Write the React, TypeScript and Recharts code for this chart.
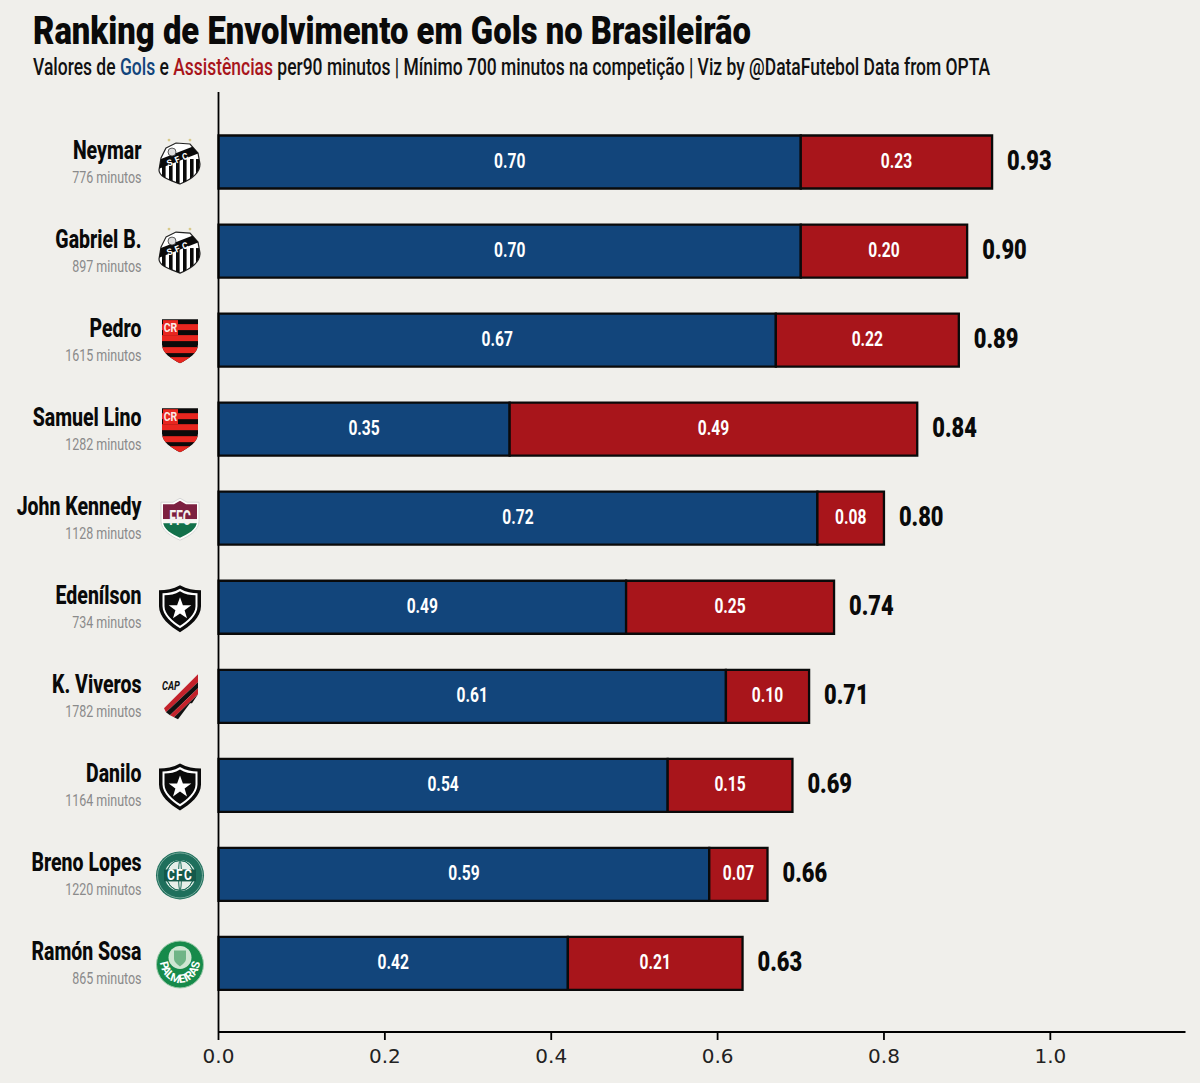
import React from 'react'
import { BarChart, Bar, XAxis, YAxis, LabelList } from 'recharts'

const jogadores = ['Neymar', 'Gabriel B.', 'Pedro', 'Samuel Lino', 'John Kennedy', 'Edenílson', 'K. Viveros', 'Danilo', 'Breno Lopes', 'Ramón Sosa']
const minutos = [776, 897, 1615, 1282, 1128, 734, 1782, 1164, 1220, 865]
const times = ['santos', 'santos', 'flamengo', 'flamengo', 'fluminense', 'botafogo', 'paranaense', 'botafogo', 'coritiba', 'palmeiras']
const gols = [0.7, 0.7, 0.67, 0.35, 0.72, 0.49, 0.61, 0.54, 0.59, 0.42]
const assistencias = [0.23, 0.2, 0.22, 0.49, 0.08, 0.25, 0.1, 0.15, 0.07, 0.21]
const totais = [0.93, 0.9, 0.89, 0.84, 0.8, 0.74, 0.71, 0.69, 0.66, 0.63]
const ticksX = [0, 0.2, 0.4, 0.6, 0.8, 1]

const dados = jogadores.map((nome, i) => ({ nome, gols: gols[i], assistencias: assistencias[i], total: totais[i] }))

const FUNDO = '#f0efeb'
const AZUL = '#12457b'
const VERMELHO = '#a8151b'
const FONTE = 'Roboto, sans-serif'

// Barlow Condensed nao esta instalada: Roboto apertada na horizontal
function Estreito({ x, y, anchor = 'start', size, weight = 400, fill, escala = 0.78, children }: any) {
  return (
    <text
      transform={`translate(${x},${y}) scale(${escala},1)`}
      textAnchor={anchor}
      fontFamily={FONTE}
      fontSize={size}
      fontWeight={weight}
      fill={fill}
    >
      {children}
    </text>
  )
}

function Santos({ id }: { id: string }) {
  const contorno = 'M-14,-15 L-4,-20 L10,-19 L18,-10 L20,1 C20,10 10,17 0,21 C-10,17 -21,14 -21,7 L-19,-5 Z'
  return (
    <g>
      <circle cx={-11} cy={-23} r={1.4} fill="#d8c98a" />
      <circle cx={10} cy={-23} r={1.4} fill="#d8c98a" />
      <clipPath id={id}><path d={contorno} /></clipPath>
      <path d={contorno} fill="#fff" stroke="#222" strokeWidth={1.2} />
      <g clipPath={`url(#${id})`}>
        {[-18, -11, -4, 3, 10, 16].map((x) => <rect key={x} x={x} y={-4} width={3.6} height={27} fill="#0a0a0a" />)}
        <path d="M-22,6 L22,-11 L22,-20 L-22,-3 Z" fill="#0a0a0a" />
      </g>
      <circle cx={-8} cy={-11} r={4} fill="#ddd" stroke="#333" strokeWidth={0.8} />
      <text transform="translate(0,-1) rotate(-22)" textAnchor="middle" fontSize={9} fontWeight={700} fill="#fff" fontFamily={FONTE} letterSpacing={3}>SFC</text>
    </g>
  )
}

function Flamengo({ id }: { id: string }) {
  const contorno = 'M-18,-22 H18 V3 C18,12 8,18 0,22 C-8,18 -18,12 -18,3 Z'
  return (
    <g>
      <clipPath id={id}><path d={contorno} /></clipPath>
      <path d={contorno} fill="#0a0a0a" />
      <g clipPath={`url(#${id})`}>
        {[-17, -6, 6, 16].map((y) => <rect key={y} x={-18} y={y} width={36} height={6} fill="#e8261f" />)}
        <rect x={-17} y={-21} width={15} height={15} fill="#e8261f" />
      </g>
      <text transform="translate(-9.5,-9) scale(0.8,1)" textAnchor="middle" fontSize={13} fontWeight={700} fill="#fbe9e6" fontFamily={FONTE}>CR</text>
    </g>
  )
}

function Fluminense({ id }: { id: string }) {
  const contorno = 'M0,-21 L7,-17 H19 V2 C19,11 9,17 0,21 C-9,17 -19,11 -19,2 V-17 H-7 Z'
  const interno = 'M0,-18.5 L6,-15 H17 V2 C17,10 8,15 0,18.5 C-8,15 -17,10 -17,2 V-15 H-6 Z'
  return (
    <g>
      <clipPath id={id}><path d={interno} /></clipPath>
      <path d={contorno} fill="#fdfdfb" stroke="#cfcfcf" strokeWidth={0.8} />
      <g clipPath={`url(#${id})`}>
        <rect x={-20} y={-22} width={40} height={22} fill="#7c1f40" />
        <rect x={-20} y={0} width={40} height={4} fill="#f6f6f2" />
        <rect x={-20} y={4} width={40} height={19} fill="#12704a" />
      </g>
      <text transform="translate(0,6) scale(0.62,1)" textAnchor="middle" fontSize={20} fontWeight={700} fill="#f4f2f0" fontFamily={FONTE}>FFC</text>
    </g>
  )
}

function Botafogo() {
  return (
    <g>
      <path d="M0,-23 C7,-19 14,-18 21,-18 V-2 C21,9 10,18 0,24 C-10,18 -21,9 -21,-2 V-18 C-14,-18 -7,-19 0,-23 Z" fill="#0a0a0a" />
      <path d="M0,-19.5 C6,-16 12,-15 17.5,-15 V-2 C17.5,7 8,15 0,20 C-8,15 -17.5,7 -17.5,-2 V-15 C-12,-15 -6,-16 0,-19.5 Z" fill="#fff" />
      <path d="M0,-17 C5,-14 10,-13 15.5,-13 V-2 C15.5,6 7,13 0,17.5 C-7,13 -15.5,6 -15.5,-2 V-13 C-10,-13 -5,-14 0,-17 Z" fill="#0a0a0a" />
      <path d="M0,-11 L2.9,-3 L11.3,-3 L4.6,2 L7,10 L0,5.2 L-7,10 L-4.6,2 L-11.3,-3 L-2.9,-3 Z" fill="#fff" />
    </g>
  )
}

function Paranaense() {
  return (
    <g>
      <text transform="translate(-9,-7) scale(0.72,1)" textAnchor="middle" fontSize={13} fontWeight={700} fontStyle="italic" fill="#111" fontFamily={FONTE}>CAP</text>
      <path d="M18,-23 V-15 L-14,15 L-16,11 Z" fill="#c4222b" />
      <path d="M18,-15 V-9 L-10,18 L-14,15 Z" fill="#111" />
      <path d="M18,-9 V-3 L-6,20 L-10,18 Z" fill="#c4222b" />
      <path d="M18,-3 L12,6 H10 L-2,22 L-6,20 Z" fill="#111" />
    </g>
  )
}

function Coritiba() {
  return (
    <g>
      <circle r={24} fill="#1f6f5c" />
      <circle r={22.5} fill="none" stroke="#8cb8aa" strokeWidth={0.8} />
      <circle r={15.5} fill="#e6efe9" />
      {[-4, 0, 4].map((d) => <ellipse key={d} rx={Math.abs(d) * 3 + 1.5} ry={15} fill="none" stroke="#1f6f5c" strokeWidth={1} />)}
      <rect x={-16} y={-6} width={32} height={12} fill="#14594a" />
      <text transform="translate(0,5) scale(0.85,1)" textAnchor="middle" fontSize={14} fontWeight={700} fill="#fff" fontFamily={FONTE} letterSpacing={1.5}>CFC</text>
    </g>
  )
}

function Palmeiras({ id }: { id: string }) {
  return (
    <g>
      <circle r={23.5} fill="#168a4a" stroke="#9ccbaa" strokeWidth={1} />
      <circle cy={-7} r={11.5} fill="#cfe6d2" />
      <path d="M-6,-14 H6 V-6 C6,-2 2,0 0,2 C-2,0 -6,-2 -6,-6 Z" fill="#6fb586" />
      <path id={id} d="M-20,-2 C-16,25 16,25 20,-2" fill="none" />
      <text fontSize={11.5} fontWeight={700} fill="#fff" fontFamily={FONTE}>
        <textPath href={`#${id}`} startOffset="50%" textAnchor="middle">PALMEIRAS</textPath>
      </text>
    </g>
  )
}

function Escudo({ time, id }: { time: string; id: string }) {
  if (time === 'santos') return <Santos id={id} />
  if (time === 'flamengo') return <Flamengo id={id} />
  if (time === 'fluminense') return <Fluminense id={id} />
  if (time === 'botafogo') return <Botafogo />
  if (time === 'paranaense') return <Paranaense />
  if (time === 'coritiba') return <Coritiba />
  return <Palmeiras id={id} />
}

function TickJogador({ x, y, payload }: any) {
  const i = jogadores.indexOf(payload.value)
  return (
    <g>
      <Estreito x={x - 77} y={y - 3.5} anchor="end" size={25} weight={800} fill="#0a0a0a">{payload.value}</Estreito>
      <Estreito x={x - 77} y={y + 20.5} anchor="end" size={16} fill="#8a8a8a">{minutos[i]} minutos</Estreito>
      <g transform={`translate(${x - 38.5},${y + 1})`}>
        <Escudo time={times[i]} id={`escudo-${i}`} />
      </g>
    </g>
  )
}

function RotuloTotal({ x, y, width, height, index }: any) {
  return (
    <Estreito x={x + width + 15} y={y + height / 2 + 8} size={28} weight={900} fill="#0a0a0a">
      {totais[index].toFixed(2)}
    </Estreito>
  )
}

function RotuloBarra({ x, y, width, height, value }: any) {
  return (
    <Estreito x={x + width / 2} y={y + height / 2 + 5.5} anchor="middle" size={20} weight={700} fill="#fff">
      {Number(value).toFixed(2)}
    </Estreito>
  )
}

export default function App() {
  return (
    <div style={{ position: 'absolute', left: 0, top: 0, width: 1200, height: 1083, background: FUNDO, overflow: 'hidden' }}>
      <BarChart
        width={1200}
        height={1083}
        data={dados}
        layout="vertical"
        margin={{ top: 92, right: 14.5, bottom: 0, left: 0 }}
      >
        <XAxis
          type="number"
          domain={[0, 1.1625]}
          ticks={ticksX}
          tickFormatter={(v: number) => v.toFixed(1)}
          height={51}
          tickSize={8}
          tickMargin={9}
          axisLine={{ stroke: '#000', strokeWidth: 1.8 }}
          tickLine={{ stroke: '#000', strokeWidth: 1.8 }}
          tick={{ fontFamily: '"DejaVu Sans"', fontSize: 20, fill: '#222' }}
        />
        <YAxis
          type="category"
          dataKey="nome"
          width={218.5}
          interval={0}
          tickSize={0}
          tickMargin={0}
          padding={{ top: 25.5, bottom: 24 }}
          axisLine={{ stroke: '#000', strokeWidth: 1.8 }}
          tickLine={false}
          tick={TickJogador}
        />
        <Bar dataKey="gols" stackId="a" fill={AZUL} stroke="#0a0a0a" strokeWidth={2.3} barSize={53} isAnimationActive={false}>
          <LabelList dataKey="gols" content={RotuloBarra} />
        </Bar>
        <Bar dataKey="assistencias" stackId="a" fill={VERMELHO} stroke="#0a0a0a" strokeWidth={2.3} barSize={53} isAnimationActive={false}>
          <LabelList dataKey="assistencias" content={RotuloBarra} />
          <LabelList dataKey="total" content={RotuloTotal} />
        </Bar>
      </BarChart>
      <svg width={1200} height={90} style={{ position: 'absolute', left: 0, top: 0 }}>
        <text x={33} y={44} fontFamily={FONTE} fontWeight={900} fontSize={38} fill="#0a0a0a" textLength={718} lengthAdjust="spacingAndGlyphs">Ranking de Envolvimento em Gols no Brasileirão</text>
        <text transform="translate(33,75) scale(0.76,1)" fontFamily={FONTE} fontWeight={500} fontSize={23} fill="#111">
          Valores de <tspan fill={AZUL}>Gols</tspan> e <tspan fill={VERMELHO}>Assistências</tspan> per90 minutos | Mínimo 700 minutos na competição | Viz by @DataFutebol Data from OPTA
        </text>
      </svg>
    </div>
  )
}
